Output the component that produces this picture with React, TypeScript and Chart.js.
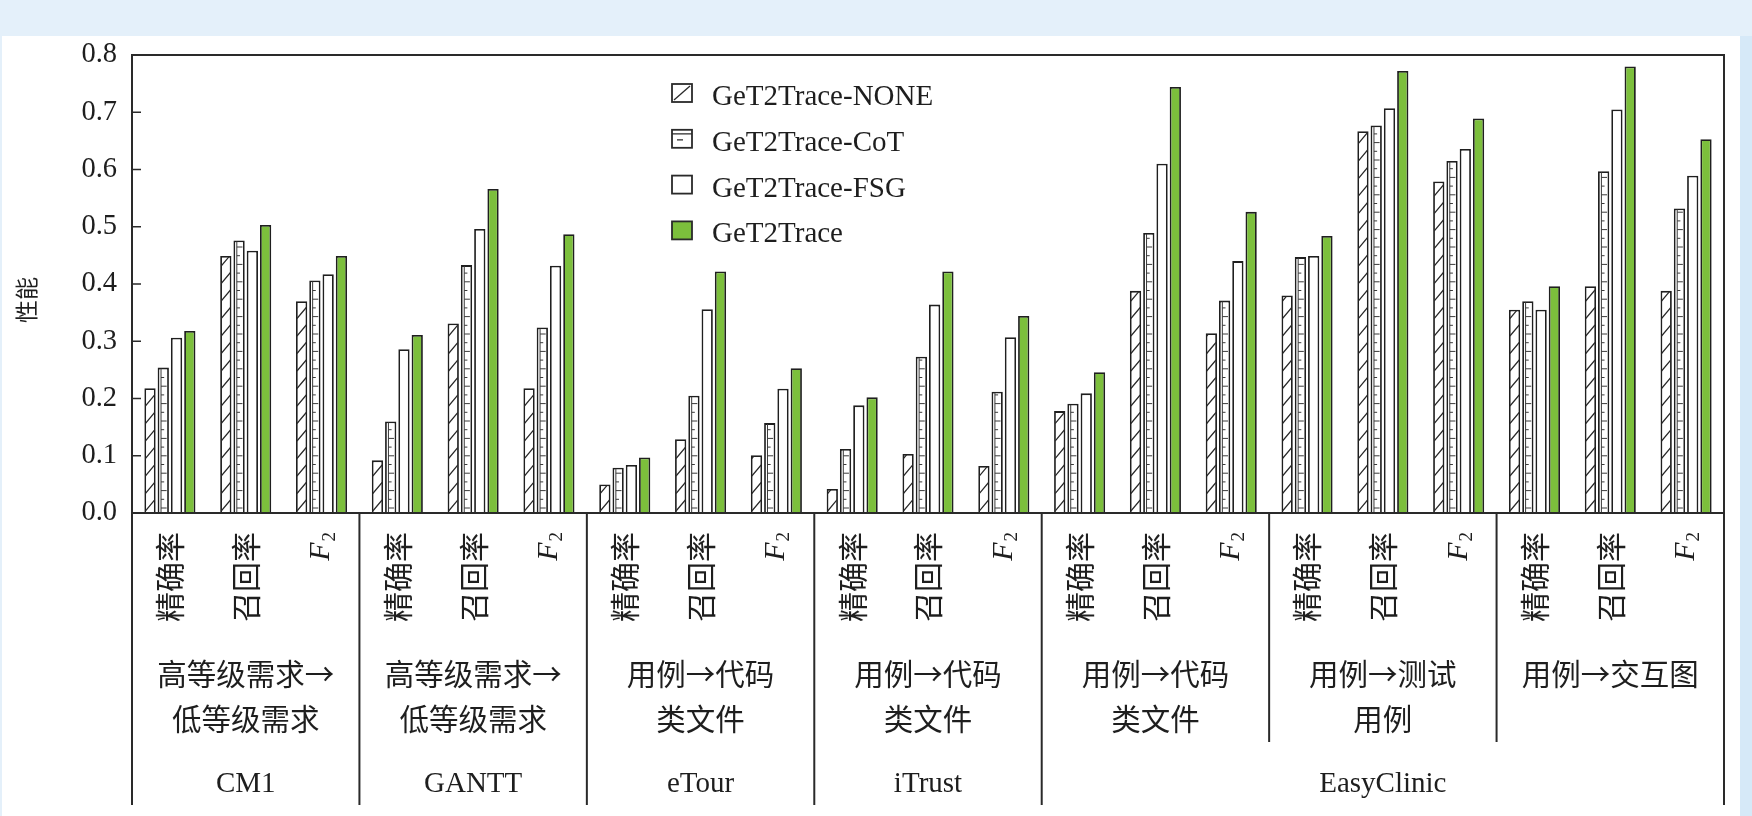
import React, { useEffect, useRef } from 'react';
import { Chart, registerables } from 'chart.js';

Chart.register(...registerables);

// ---- data ----
const metrics = ['精确率', '召回率', 'F2'];
const taskLine1 = ['高等级需求→', '高等级需求→', '用例→代码', '用例→代码', '用例→代码', '用例→测试', '用例→交互图'];
const taskLine2 = ['低等级需求', '低等级需求', '类文件', '类文件', '类文件', '用例', ''];
const projects = ['CM1', 'GANTT', 'eTour', 'iTrust', 'EasyClinic'];
const projectSpans = [1, 1, 1, 1, 3];
const seriesNames = ['GeT2Trace-NONE', 'GeT2Trace-CoT', 'GeT2Trace-FSG', 'GeT2Trace'];
const yTickLabels = ['0.0', '0.1', '0.2', '0.3', '0.4', '0.5', '0.6', '0.7', '0.8'];
const yAxisTitle = '性能';

const noneValues = [0.218, 0.449, 0.370, 0.092, 0.331, 0.218, 0.050, 0.129, 0.101, 0.042, 0.103, 0.082, 0.178, 0.388, 0.314, 0.380, 0.667, 0.579, 0.355, 0.396, 0.388];
const cotValues = [0.254, 0.476, 0.406, 0.160, 0.433, 0.324, 0.079, 0.205, 0.157, 0.112, 0.273, 0.212, 0.191, 0.489, 0.371, 0.447, 0.677, 0.615, 0.370, 0.597, 0.532];
const fsgValues = [0.306, 0.458, 0.417, 0.286, 0.496, 0.432, 0.084, 0.356, 0.217, 0.188, 0.364, 0.307, 0.209, 0.610, 0.440, 0.449, 0.707, 0.636, 0.355, 0.705, 0.589];
const get2Values = [0.318, 0.503, 0.449, 0.311, 0.566, 0.487, 0.097, 0.422, 0.253, 0.202, 0.422, 0.344, 0.246, 0.744, 0.526, 0.484, 0.772, 0.689, 0.396, 0.780, 0.653];

const GREEN = '#7cbf3c';
const LINE = '#2a2a2a';
const TEXT = '#1e1e1e';
const CJK = '"Noto Sans CJK SC", "Noto Sans", sans-serif';
const SERIF = '"Liberation Serif", "DejaVu Serif", serif';

function drawNoneHatch(ctx: CanvasRenderingContext2D, l: number, t: number, r: number, b: number) {
  ctx.save();
  ctx.beginPath();
  ctx.rect(l + 1, t + 1, r - l - 2, b - t - 1);
  ctx.clip();
  ctx.strokeStyle = '#2a2a2a';
  ctx.lineWidth = 1.2;
  ctx.beginPath();
  for (let yy = b - 2; yy > t - 20; yy -= 17.5) {
    ctx.moveTo(l + 1, yy);
    ctx.lineTo(r - 1, yy - 11);
  }
  ctx.stroke();
  ctx.restore();
}

function drawCotHatch(ctx: CanvasRenderingContext2D, l: number, t: number, r: number, b: number) {
  const w = r - l;
  ctx.save();
  ctx.beginPath();
  ctx.rect(l + 1, t + 1, w - 2, b - t - 1);
  ctx.clip();
  ctx.strokeStyle = '#3a3a3a';
  ctx.lineWidth = 1;
  const vx = l + w * 0.3;
  ctx.beginPath();
  ctx.moveTo(vx, t);
  ctx.lineTo(vx, b);
  let k = 0;
  for (let yy = b - 5; yy > t + 2; yy -= 8.7) {
    ctx.moveTo(vx, yy);
    ctx.lineTo(l + w * (k % 2 === 0 ? 0.8 : 0.58), yy);
    k++;
  }
  ctx.stroke();
  ctx.restore();
}

const customPlugin = {
  id: 'customDecor',
  afterDatasetsDraw(chart: any) {
    const ctx: CanvasRenderingContext2D = chart.ctx;
    [0, 1].forEach((di) => {
      const meta = chart.getDatasetMeta(di);
      meta.data.forEach((el: any) => {
        const p = el.getProps(['x', 'y', 'base', 'width'], true);
        const l = p.x - p.width / 2;
        const r = p.x + p.width / 2;
        const t = Math.min(p.y, p.base);
        const b = Math.max(p.y, p.base);
        if (di === 0) drawNoneHatch(ctx, l, t, r, b);
        else drawCotHatch(ctx, l, t, r, b);
      });
    });
  },
  afterDraw(chart: any) {
    const ctx: CanvasRenderingContext2D = chart.ctx;
    const area = chart.chartArea;
    const xs = chart.scales.x;
    const ys = chart.scales.y;
    const catW = xs.getPixelForValue(1) - xs.getPixelForValue(0);
    const boundary = (k: number) => xs.getPixelForValue(0) - catW / 2 + k * catW;
    const bottomFull = 805;
    const bottomSub = 742;

    ctx.save();
    ctx.strokeStyle = LINE;
    ctx.lineWidth = 2;
    ctx.beginPath();
    // frame
    ctx.moveTo(area.left, bottomFull);
    ctx.lineTo(area.left, area.top);
    ctx.lineTo(area.right, area.top);
    ctx.lineTo(area.right, bottomFull);
    ctx.moveTo(area.left, area.bottom);
    ctx.lineTo(area.right, area.bottom);
    // project separators
    let acc = 0;
    projectSpans.forEach((span, i) => {
      for (let s = 1; s < span; s++) {
        const bx = boundary((acc + s) * 3);
        ctx.moveTo(bx, area.bottom);
        ctx.lineTo(bx, bottomSub);
      }
      acc += span;
      if (i < projectSpans.length - 1) {
        const bx = boundary(acc * 3);
        ctx.moveTo(bx, area.bottom);
        ctx.lineTo(bx, bottomFull);
      }
    });
    ctx.stroke();

    // inner y ticks
    ctx.lineWidth = 1.5;
    ctx.beginPath();
    for (let i = 1; i < yTickLabels.length - 1; i++) {
      const yy = ys.getPixelForValue(i / 10);
      ctx.moveTo(area.left, yy);
      ctx.lineTo(area.left + 9, yy);
    }
    ctx.stroke();

    // metric labels (rotated)
    ctx.fillStyle = TEXT;
    const labelTop = 532;
    for (let c = 0; c < chart.data.labels.length; c++) {
      const cx = xs.getPixelForValue(c);
      const lab = chart.data.labels[c];
      ctx.save();
      ctx.translate(cx, labelTop);
      ctx.rotate(-Math.PI / 2);
      if (lab === 'F2') {
        ctx.font = `italic 30px ${SERIF}`;
        const wF = ctx.measureText('F').width;
        ctx.font = `19px ${SERIF}`;
        const w2 = ctx.measureText('2').width;
        ctx.textAlign = 'left';
        ctx.textBaseline = 'middle';
        ctx.font = `italic 30px ${SERIF}`;
        ctx.fillText('F', -(wF + w2) - 1, 0);
        ctx.font = `19px ${SERIF}`;
        ctx.fillText('2', -w2, 8);
      } else {
        ctx.font = `30px ${CJK}`;
        ctx.textAlign = 'right';
        ctx.textBaseline = 'middle';
        ctx.fillText(lab, 0, 0);
      }
      ctx.restore();
    }

    // task labels
    ctx.font = `29.5px ${CJK}`;
    ctx.textAlign = 'center';
    ctx.textBaseline = 'middle';
    for (let g = 0; g < taskLine1.length; g++) {
      const cx = (boundary(g * 3) + boundary(g * 3 + 3)) / 2;
      ctx.fillText(taskLine1[g], cx, 674);
      if (taskLine2[g]) ctx.fillText(taskLine2[g], cx, 719);
    }

    // project labels
    ctx.font = `29px ${SERIF}`;
    acc = 0;
    projects.forEach((name, i) => {
      const x0 = boundary(acc * 3);
      const x1 = boundary((acc + projectSpans[i]) * 3);
      ctx.fillText(name, (x0 + x1) / 2, 784);
      acc += projectSpans[i];
    });

    // y axis title
    ctx.save();
    ctx.translate(26, 300);
    ctx.rotate(-Math.PI / 2);
    ctx.font = `23px ${CJK}`;
    ctx.textAlign = 'center';
    ctx.textBaseline = 'middle';
    ctx.fillText(yAxisTitle, 0, 0);
    ctx.restore();

    // legend
    const lx = 672;
    const ly0 = 93;
    const dy = 45.8;
    chart.data.datasets.forEach((ds: any, i: number) => {
      const cy = ly0 + i * dy;
      const bx = lx, by = cy - 9, bw = 20, bh = 18;
      ctx.fillStyle = i === 3 ? GREEN : '#ffffff';
      ctx.fillRect(bx, by, bw, bh);
      ctx.strokeStyle = LINE;
      ctx.lineWidth = 1.8;
      ctx.strokeRect(bx, by, bw, bh);
      ctx.lineWidth = 1.3;
      if (i === 0) {
        ctx.beginPath();
        ctx.moveTo(bx + 2, by + bh - 2);
        ctx.lineTo(bx + bw - 2, by + 2);
        ctx.stroke();
      } else if (i === 1) {
        ctx.beginPath();
        ctx.moveTo(bx, by + 4);
        ctx.lineTo(bx + bw, by + 4);
        ctx.moveTo(bx + 5, by + 10);
        ctx.lineTo(bx + 11, by + 10);
        ctx.stroke();
      }
      ctx.fillStyle = TEXT;
      ctx.font = `29px ${SERIF}`;
      ctx.textAlign = 'left';
      ctx.textBaseline = 'alphabetic';
      ctx.fillText(ds.label, 712, cy + 12);
    });

    ctx.restore();
  },
};

export default function App() {
  const canvasRef = useRef<HTMLCanvasElement | null>(null);

  useEffect(() => {
    const canvas = canvasRef.current;
    if (!canvas) return;
    const labels: string[] = [];
    for (let g = 0; g < taskLine1.length; g++) metrics.forEach((m) => labels.push(m));
    const valueSets = [noneValues, cotValues, fsgValues, get2Values];
    const chart = new Chart(canvas, {
      type: 'bar',
      data: {
        labels,
        datasets: seriesNames.map((name, i) => ({
          label: name,
          data: valueSets[i],
          backgroundColor: i === 3 ? GREEN : '#ffffff',
          borderColor: '#1f1f1f',
          borderWidth: 1.8,
          categoryPercentage: 0.7,
          barPercentage: 0.85,
        })),
      },
      options: {
        responsive: false,
        animation: false,
        devicePixelRatio: 1,
        layout: { padding: { top: 55, right: 28, left: 0, bottom: 0 } },
        plugins: {
          legend: { display: false },
          tooltip: { enabled: false },
          title: { display: false },
        },
        scales: {
          x: {
            grid: { display: false, drawTicks: false },
            border: { display: false },
            ticks: { display: false },
            afterFit: (s: any) => {
              s.height = 303;
            },
          },
          y: {
            min: 0,
            max: 0.8,
            grid: { display: false, drawTicks: false },
            border: { display: false },
            ticks: {
              stepSize: 0.1,
              padding: 15,
              color: TEXT,
              font: { family: SERIF, size: 28.5 },
              callback: (_v: any, idx: number) => yTickLabels[idx],
            },
            afterFit: (s: any) => {
              s.width = 132;
            },
          },
        },
      },
      plugins: [customPlugin],
    } as any);
    return () => chart.destroy();
  }, []);

  return (
    <div style={{ position: 'absolute', left: 0, top: 0, width: 1752, height: 816, background: '#E4F0FA', overflow: 'hidden' }}>
      <div style={{ position: 'absolute', left: 2, top: 36, width: 1738, height: 780, background: '#ffffff' }} />
      <div style={{ position: 'absolute', left: 1740, top: 36, width: 12, height: 780, background: '#D6E9F8' }} />
      <canvas ref={canvasRef} width={1752} height={816} style={{ position: 'absolute', left: 0, top: 0, width: 1752, height: 816 }} />
    </div>
  );
}
